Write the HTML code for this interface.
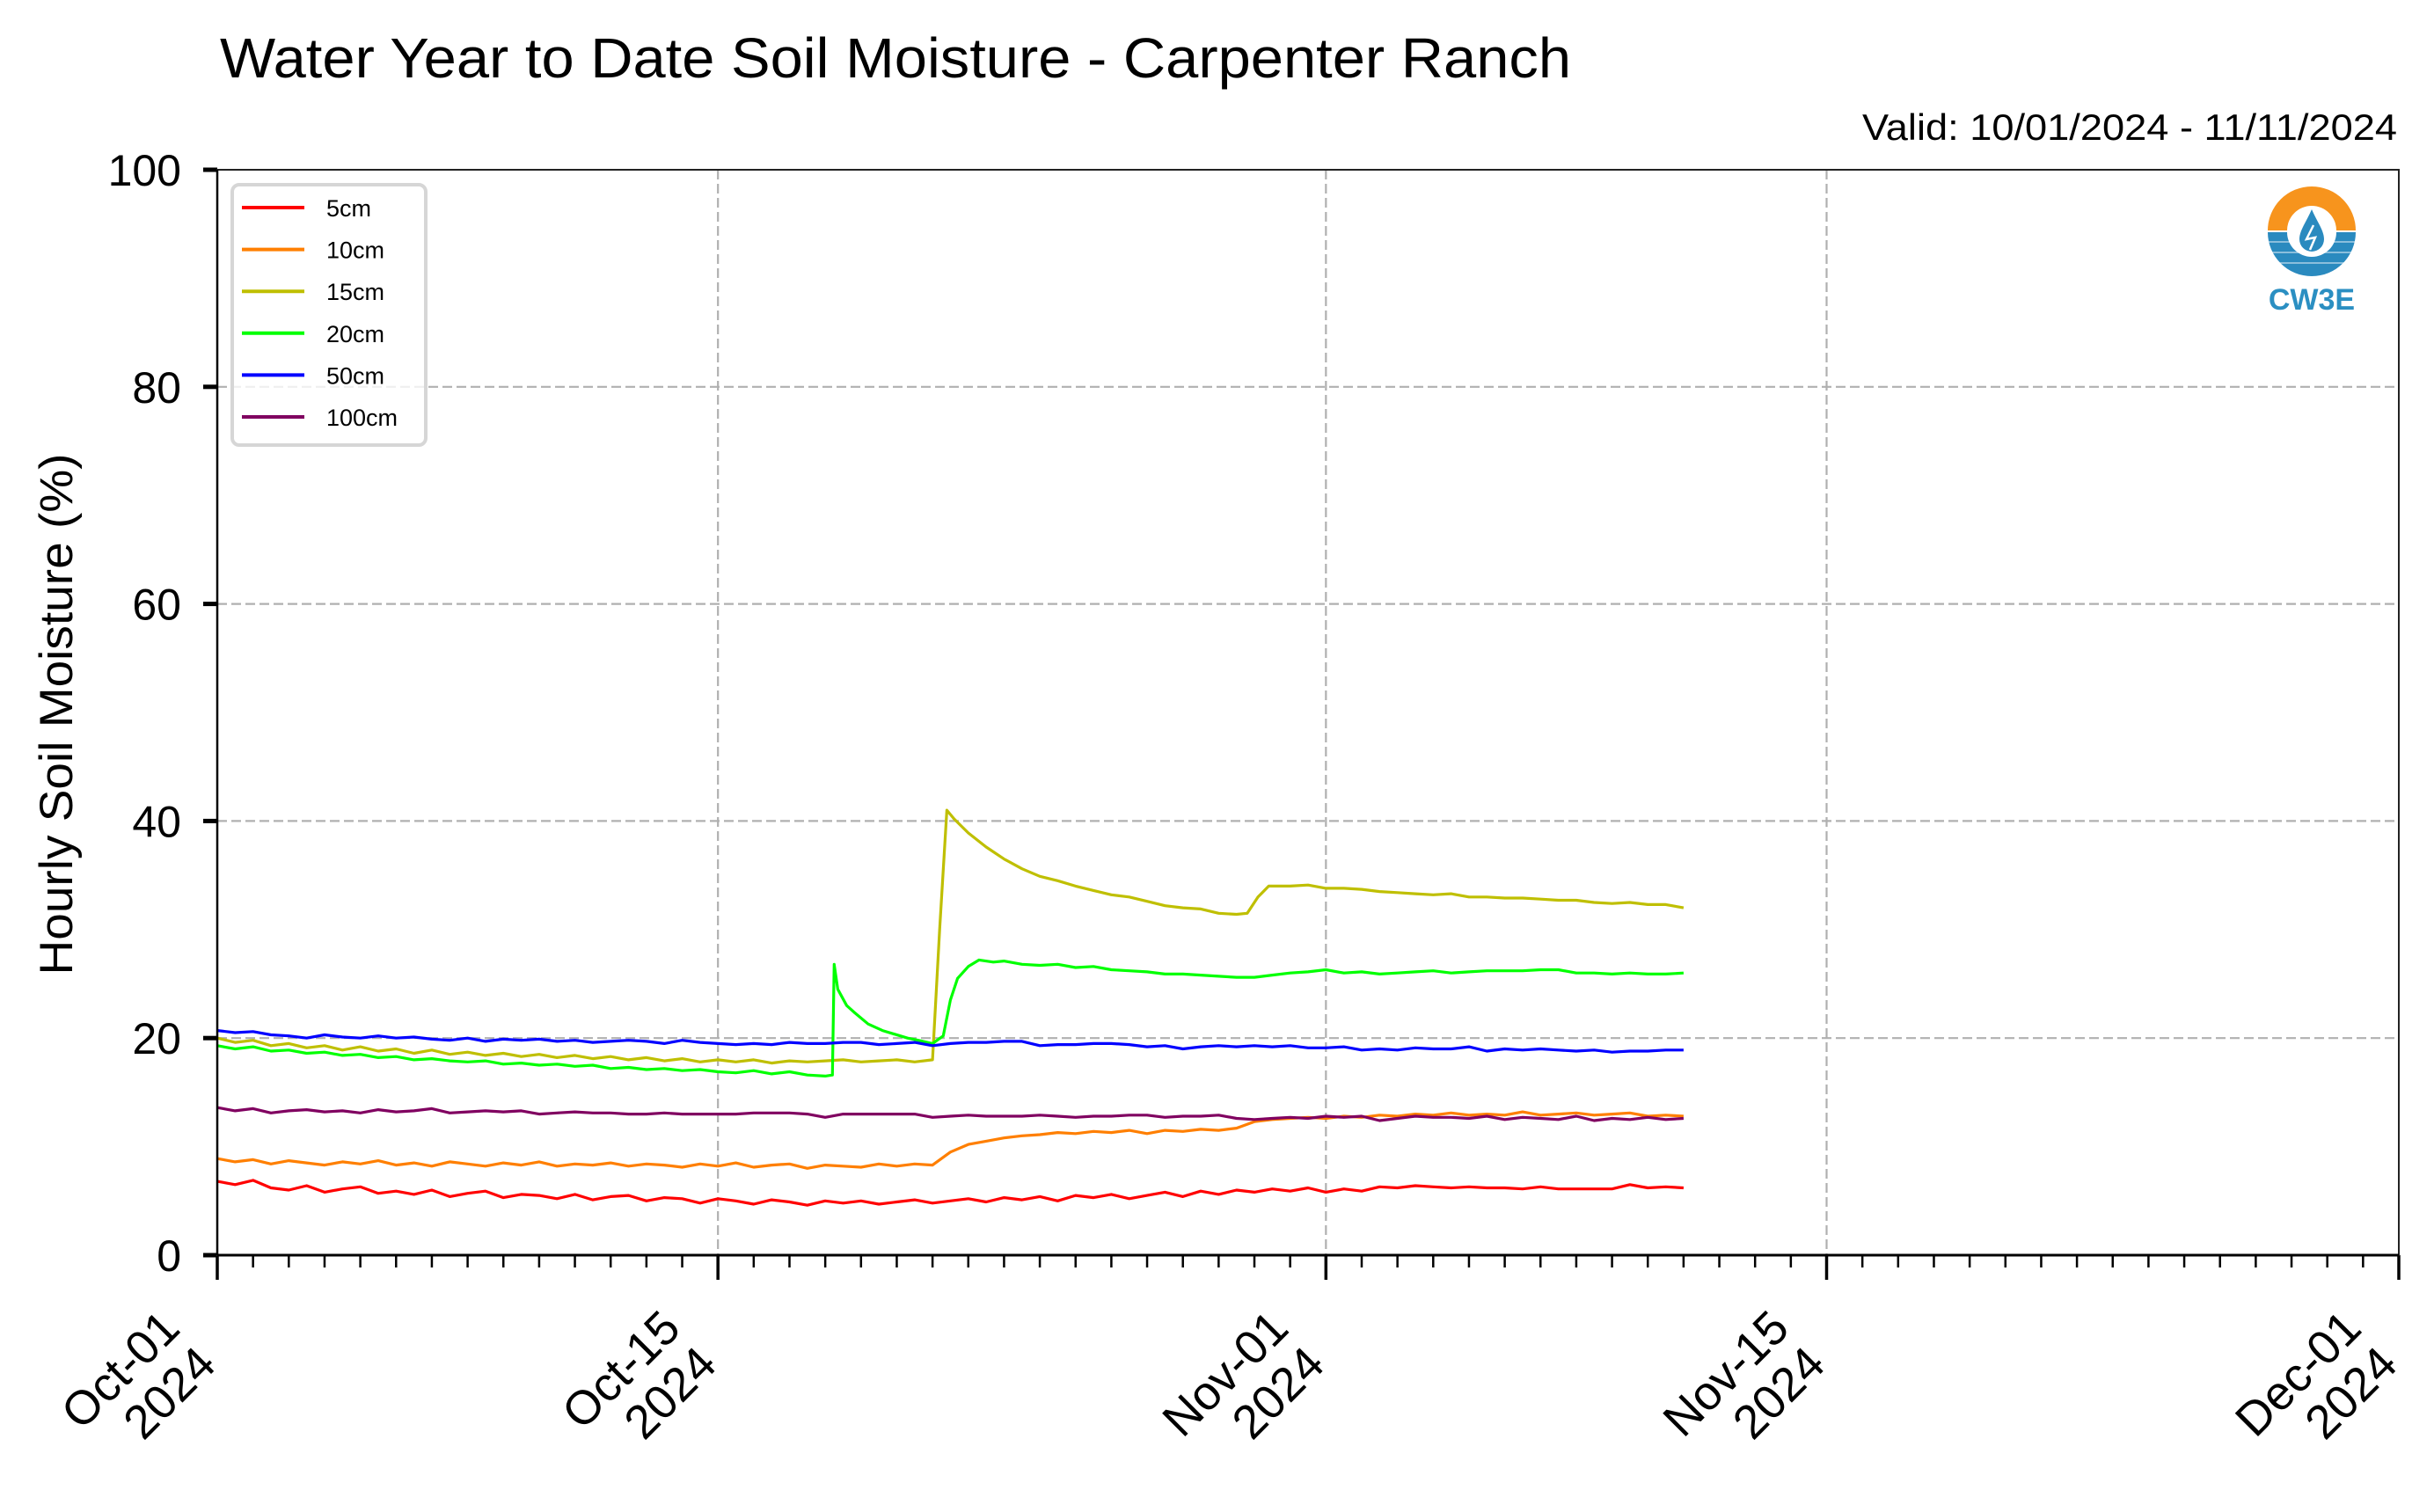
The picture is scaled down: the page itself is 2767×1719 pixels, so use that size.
<!DOCTYPE html>
<html><head><meta charset="utf-8"><style>
html,body{margin:0;padding:0;background:#fff;}
svg{display:block;font-family:"Liberation Sans",sans-serif;}
</style></head>
<body>
<svg id="chart" width="2767" height="1719" viewBox="0 0 2767 1719" xmlns="http://www.w3.org/2000/svg">
<rect width="2767" height="1719" fill="#fff"/>
<text x="250" y="88" font-size="64" textLength="1536" lengthAdjust="spacingAndGlyphs">Water Year to Date Soil Moisture - Carpenter Ranch</text>
<text x="2725" y="159" font-size="42" text-anchor="end" textLength="608" lengthAdjust="spacingAndGlyphs">Valid: 10/01/2024 - 11/11/2024</text>
<text transform="translate(82,812) rotate(-90)" font-size="53" text-anchor="middle" textLength="593" lengthAdjust="spacingAndGlyphs">Hourly Soil Moisture (%)</text>
<g id="grid"></g>
<g id="series"></g>
<g id="axes"></g>
<g id="legend">
<rect x="264" y="210" width="220" height="296" rx="8" fill="#fff" fill-opacity="0.8" stroke="#d6d6d6" stroke-width="4"/>
</g>
<g>
<path d="M2578,262 A50,50 0 0 1 2678,262 L2656,262 A28,28 0 0 0 2600,262 Z" fill="#f7941d"/>
<path d="M2578,264 A50,50 0 0 0 2678,264 L2656,264 A28,28 0 0 1 2600,264 Z" fill="#2a8abf"/>
<line x1="2578" y1="275" x2="2678" y2="275" stroke="#fff" stroke-width="1.5" opacity="0.6"/>
<line x1="2580" y1="287" x2="2676" y2="287" stroke="#fff" stroke-width="1.5" opacity="0.6"/>
<line x1="2586" y1="299" x2="2670" y2="299" stroke="#fff" stroke-width="1.5" opacity="0.6"/>
<path d="M2628,238 C2622,252 2614,262 2614,272 A14,14 0 0 0 2642,272 C2642,262 2634,252 2628,238 Z" fill="#2a8abf"/>
<path d="M2630,256 L2622,272 L2632,270 L2626,284" stroke="#fff" stroke-width="2.5" fill="none"/>
<text x="2628" y="352" font-size="34" font-weight="bold" fill="#2b8fc2" text-anchor="middle">CW3E</text>
</g>
</svg>
<script>
// ---- data ----
const yTicks = [0, 20, 40, 60, 80, 100];
const xTickDays = [0, 14, 31, 45, 61];
const xTickLabels = ["Oct-01", "Oct-15", "Nov-01", "Nov-15", "Dec-01"];
const xTickYear = "2024";
const seriesNames = ["5cm", "10cm", "15cm", "20cm", "50cm", "100cm"];
const seriesColors = ["#ff0000", "#ff7f00", "#bfbf00", "#00ff00", "#0000ff", "#800060"];
const gridStep = 0.5;
const v5 = [6.8,6.5,6.9,6.2,6.0,6.4,5.8,6.1,6.3,5.7,
5.9,5.6,6.0,5.4,5.7,5.9,5.3,5.6,5.5,5.2,
5.6,5.1,5.4,5.5,5.0,5.3,5.2,4.8,5.2,5.0,
4.7,5.1,4.9,4.6,5.0,4.8,5.0,4.7,4.9,5.1,
4.8,5.0,5.2,4.9,5.3,5.1,5.4,5.0,5.5,5.3,
5.6,5.2,5.5,5.8,5.4,5.9,5.6,6.0,5.8,6.1,
5.9,6.2,5.8,6.1,5.9,6.3,6.2,6.4,6.3,6.2,
6.3,6.2,6.2,6.1,6.3,6.1,6.1,6.1,6.1,6.5,
6.2,6.3,6.2];
const v10 = [8.9,8.6,8.8,8.4,8.7,8.5,8.3,8.6,8.4,8.7,
8.3,8.5,8.2,8.6,8.4,8.2,8.5,8.3,8.6,8.2,
8.4,8.3,8.5,8.2,8.4,8.3,8.1,8.4,8.2,8.5,
8.1,8.3,8.4,8.0,8.3,8.2,8.1,8.4,8.2,8.4,
8.3,9.5,10.2,10.5,10.8,11.0,11.1,11.3,11.2,11.4,
11.3,11.5,11.2,11.5,11.4,11.6,11.5,11.7,12.3,12.5,
12.6,12.7,12.6,12.8,12.7,12.9,12.8,13.0,12.9,13.1,
12.9,13.0,12.9,13.2,12.9,13.0,13.1,12.9,13.0,13.1,
12.8,12.9,12.8];
const v100 = [13.6,13.3,13.5,13.1,13.3,13.4,13.2,13.3,13.1,13.4,
13.2,13.3,13.5,13.1,13.2,13.3,13.2,13.3,13.0,13.1,
13.2,13.1,13.1,13.0,13.0,13.1,13.0,13.0,13.0,13.0,
13.1,13.1,13.1,13.0,12.7,13.0,13.0,13.0,13.0,13.0,
12.7,12.8,12.9,12.8,12.8,12.8,12.9,12.8,12.7,12.8,
12.8,12.9,12.9,12.7,12.8,12.8,12.9,12.6,12.5,12.6,
12.7,12.6,12.8,12.7,12.8,12.4,12.6,12.8,12.7,12.7,
12.6,12.8,12.5,12.7,12.6,12.5,12.8,12.4,12.6,12.5,
12.7,12.5,12.6];
const v50 = [20.7,20.5,20.6,20.3,20.2,20.0,20.3,20.1,20.0,20.2,
20.0,20.1,19.9,19.8,20.0,19.7,19.9,19.8,19.9,19.7,
19.8,19.6,19.7,19.8,19.7,19.5,19.8,19.6,19.5,19.4,
19.5,19.4,19.6,19.5,19.5,19.6,19.6,19.4,19.5,19.6,
19.3,19.5,19.6,19.6,19.7,19.7,19.3,19.4,19.4,19.5,
19.5,19.4,19.2,19.3,19.0,19.2,19.3,19.2,19.3,19.2,
19.3,19.1,19.1,19.2,18.9,19.0,18.9,19.1,19.0,19.0,
19.2,18.8,19.0,18.9,19.0,18.9,18.8,18.9,18.7,18.8,
18.8,18.9,18.9];
const d15 = [0,0.5,1,1.5,2,2.5,3,3.5,4,4.5,5,5.5,6,6.5,7,7.5,8,8.5,9,9.5,10,10.5,11,11.5,12,12.5,13,13.5,14,14.5,15,15.5,16,16.5,17,17.5,18,18.5,19,19.5,20,
20.2,20.4,20.6,21,21.5,22,22.5,23,23.5,24,24.5,25,25.5,26,26.5,27,27.5,28,28.5,28.8,29.1,29.4,30,30.5,31,31.5,32,32.5,33,33.5,34,34.5,35,35.5,36,36.5,37,37.5,38,38.5,39,39.5,40,40.5,41];
const v15 = [20.0,19.6,19.8,19.3,19.5,19.1,19.3,18.9,19.2,18.8,
19.0,18.6,18.9,18.5,18.7,18.4,18.6,18.3,18.5,18.2,
18.4,18.1,18.3,18.0,18.2,17.9,18.1,17.8,18.0,17.8,
18.0,17.7,17.9,17.8,17.9,18.0,17.8,17.9,18.0,17.8,18.0,
30.0,41.0,40.2,38.9,37.6,36.5,35.6,34.9,34.5,34.0,33.6,33.2,33.0,32.6,32.2,32.0,31.9,31.5,31.4,31.5,33.0,34.0,34.0,34.1,33.8,33.8,33.7,33.5,33.4,33.3,33.2,33.3,33.0,33.0,32.9,32.9,32.8,32.7,32.7,32.5,32.4,32.5,32.3,32.3,32.0];
const d20 = [0,0.5,1,1.5,2,2.5,3,3.5,4,4.5,5,5.5,6,6.5,7,7.5,8,8.5,9,9.5,10,10.5,11,11.5,12,12.5,13,13.5,14,14.5,15,15.5,16,16.5,17,
17.2,17.25,17.35,17.6,17.8,18.2,18.6,18.9,19.3,19.6,20.0,20.3,20.5,20.7,21.0,21.3,21.7,22,22.5,23,23.5,24,24.5,25,25.5,26,26.5,27,27.5,28,28.5,29,29.5,30,30.5,31,31.5,32,32.5,33,33.5,34,34.5,35,35.5,36,36.5,37,37.5,38,38.5,39,39.5,40,40.5,41];
const v20 = [19.3,19.0,19.2,18.8,18.9,18.6,18.7,18.4,18.5,18.2,
18.3,18.0,18.1,17.9,17.8,17.9,17.6,17.7,17.5,17.6,
17.4,17.5,17.2,17.3,17.1,17.2,17.0,17.1,16.9,16.8,
17.0,16.7,16.9,16.6,16.5,
16.6,26.8,24.5,23.0,22.4,21.3,20.7,20.4,20.0,19.8,19.5,20.2,23.5,25.5,26.6,27.2,27.0,27.1,26.8,26.7,26.8,26.5,26.6,26.3,26.2,26.1,25.9,25.9,25.8,25.7,25.6,25.6,25.8,26.0,26.1,26.3,26.0,26.1,25.9,26.0,26.1,26.2,26.0,26.1,26.2,26.2,26.2,26.3,26.3,26.0,26.0,25.9,26.0,25.9,25.9,26.0];

// ---- layout ----
const NS = "http://www.w3.org/2000/svg";
const X0 = 247, X1 = 2727, Y0 = 1427, Y1 = 193, DMAX = 61, VMAX = 100;
function xs(d){ return X0 + (X1 - X0) * d / DMAX; }
function ys(v){ return Y0 - (Y0 - Y1) * v / VMAX; }
function mk(tag, attrs, parent){
  const e = document.createElementNS(NS, tag);
  for (const k in attrs) e.setAttribute(k, attrs[k]);
  parent.appendChild(e);
  return e;
}
const grid = document.getElementById('grid');
const axes = document.getElementById('axes');
const ser = document.getElementById('series');
const leg = document.getElementById('legend');

yTicks.forEach(v => {
  if (v > 0 && v < VMAX) {
    const g = mk('line', {x1:X0, x2:X1, y1:ys(v), y2:ys(v), stroke:'#b0b0b0', 'stroke-width':2.2, 'stroke-dasharray':'11,5'}, grid);
    
    
  }
  const t = mk('line', {x1:X0-16, x2:X0, y1:ys(v), y2:ys(v), stroke:'#000', 'stroke-width':5}, axes);
  
  
  const lb = mk('text', {x:206, y:ys(v)+18, 'font-size':50, 'text-anchor':'end'}, axes);
  lb.textContent = String(v);
  
  
});
xTickDays.forEach((d, i) => {
  if (d > 0 && d < DMAX) {
    const g = mk('line', {x1:xs(d), x2:xs(d), y1:Y1, y2:Y0, stroke:'#b0b0b0', 'stroke-width':2.2, 'stroke-dasharray':'11,5'}, grid);
    
    
  }
});
for (let d = 0; d <= DMAX; d++) {
  const major = xTickDays.indexOf(d) >= 0;
  const t = mk('line', {x1:xs(d), x2:xs(d), y1:Y0, y2:Y0 + (major ? 28 : 14), stroke:'#000', 'stroke-width': major ? 3.5 : 2.5}, axes);
  
  
}
xTickDays.forEach((d, i) => {
  const g = mk('g', {transform:'translate(' + (xs(d) - 40) + ',' + (Y0 + 86) + ') rotate(-45)'}, axes);
  
  
  const t1 = mk('text', {x:0, y:0, 'font-size':54, 'text-anchor':'end'}, g);
  t1.textContent = xTickLabels[i];
  const t2 = mk('text', {x:0, y:58, 'font-size':54, 'text-anchor':'end'}, g);
  t2.textContent = xTickYear;
});
const frame = mk('rect', {x:X0, y:Y1, width:X1-X0, height:Y0-Y1, fill:'none', stroke:'#222', 'stroke-width':2}, axes);


const lx = mk('line', {x1:X0, x2:X0, y1:Y1, y2:Y0, stroke:'#000', 'stroke-width':2.5}, axes);


const bx = mk('line', {x1:X0, x2:X1, y1:Y0, y2:Y0, stroke:'#000', 'stroke-width':3}, axes);



function regularDays(n){ const a = []; for (let i = 0; i < n; i++) a.push(i * gridStep); return a; }
const allDays = [regularDays(v5.length), regularDays(v10.length), d15, d20, regularDays(v50.length), regularDays(v100.length)];
const allVals = [v5, v10, v15, v20, v50, v100];
const drawOrder = [0, 1, 2, 3, 4, 5];
drawOrder.forEach(s => {
  const ds = allDays[s], vs = allVals[s];
  let p = '';
  for (let i = 0; i < vs.length; i++) p += (i ? 'L' : 'M') + xs(ds[i]).toFixed(1) + ',' + ys(vs[i]).toFixed(1);
  const path = mk('path', {d:p, fill:'none', stroke:seriesColors[s], 'stroke-width':3.2, 'stroke-linejoin':'round'}, ser);
  
  
});
seriesNames.forEach((n, i) => {
  const ry = 236 + i * 47.6;
  const g = mk('g', {}, leg);
  
  
  mk('line', {x1:275, x2:346, y1:ry, y2:ry, stroke:seriesColors[i], 'stroke-width':4}, g);
  const t = mk('text', {x:371, y:ry + 10, 'font-size':27}, g);
  t.textContent = n;
});
</script>
</body></html>
